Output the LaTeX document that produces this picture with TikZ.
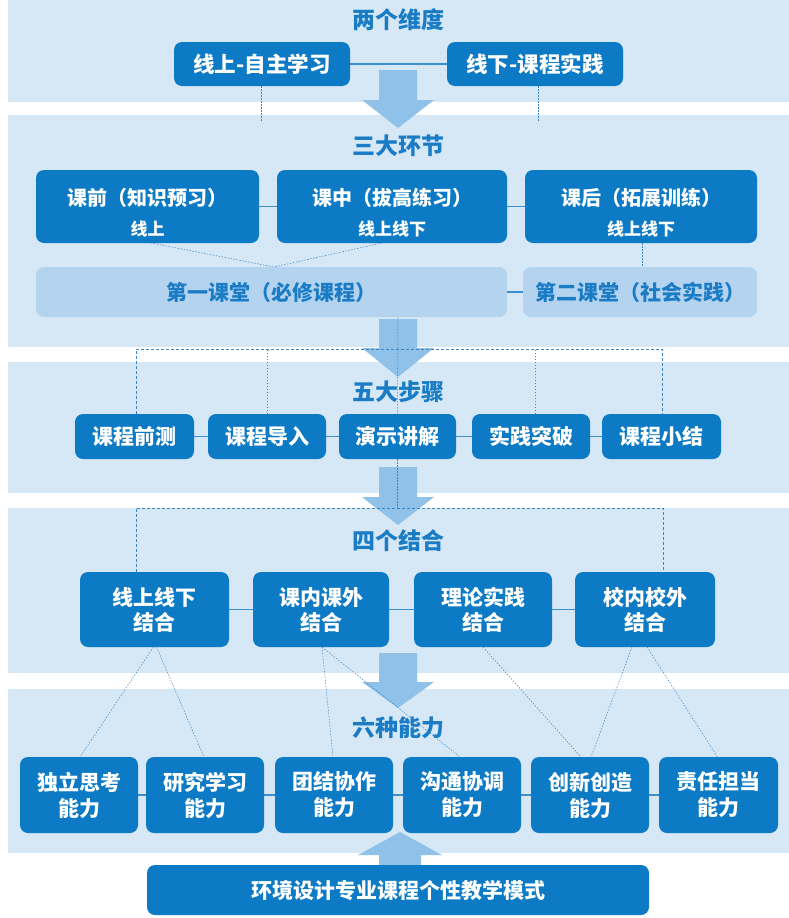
\documentclass[tikz,border=0pt]{standalone}
\usepackage{fontspec}
\setmainfont{Noto Sans CJK SC}
\usetikzlibrary{calc}
\definecolor{bandc}{HTML}{D6E8F6}
\definecolor{boxc}{HTML}{0C7AC4}
\definecolor{lightc}{HTML}{B4D3EF}
\definecolor{arrowc}{HTML}{8FC1E9}
\definecolor{titlec}{HTML}{1B7CC6}
\definecolor{linec}{HTML}{3A8FD0}
\definecolor{dotc}{HTML}{3A86C4}
\begin{document}
\begin{tikzpicture}[x=1pt,y=-1pt,
  dbox/.style={fill=boxc,rounded corners=8pt,inner sep=0pt,outer sep=0pt,text=white,align=center},
  lbox/.style={fill=lightc,rounded corners=8pt,inner sep=0pt,outer sep=0pt,text=titlec,align=center},
  ttl/.style={text=titlec,font=\bfseries\fontsize{23}{26}\selectfont,inner sep=0pt},
  fA/.style={font=\bfseries\fontsize{21.5}{26}\selectfont},
  fB/.style={font=\bfseries\fontsize{20}{24}\selectfont},
  fL/.style={font=\bfseries\fontsize{21}{24}\selectfont},
  fS/.style={font=\bfseries\fontsize{17}{20}\selectfont},
  fC/.style={font=\bfseries\fontsize{21}{25}\selectfont},
  fD/.style={font=\bfseries\fontsize{21}{26}\selectfont},
  conn/.style={draw=linec,line width=1.2pt},
  dotl/.style={draw=dotc,line width=0.5pt,dash pattern=on 1.5pt off 1.5pt},
  dashl/.style={draw=dotc,line width=0.8pt,dash pattern=on 3pt off 2pt},
  arr/.style={fill=arrowc}
]
\useasboundingbox (0,0) rectangle (789,918);
\fill[white] (0,0) rectangle (789,918);
% bands
\fill[bandc] (8,0) rectangle (789,102);
\fill[bandc] (8,115) rectangle (789,347);
\fill[bandc] (8,362) rectangle (789,493);
\fill[bandc] (8,508) rectangle (789,673);
\fill[bandc] (8,689) rectangle (789,853);
% arrows
\fill[arr] (379,70) -- (417,70) -- (417,100) -- (434,100) -- (398,128) -- (362,100) -- (379,100) -- cycle;
\fill[arr] (379,319) -- (417,319) -- (417,348) -- (434,348) -- (398,377) -- (362,348) -- (379,348) -- cycle;
\fill[arr] (379,467) -- (417,467) -- (417,497) -- (434,497) -- (398,525) -- (362,497) -- (379,497) -- cycle;
\fill[arr] (379,653) -- (417,653) -- (417,682) -- (434,682) -- (398,708) -- (362,682) -- (379,682) -- cycle;
\fill[arr] (379,865) -- (421,865) -- (421,855) -- (442,855) -- (400,832) -- (358,855) -- (379,855) -- cycle;
% titles
\node[ttl] (t1) at (398,20) {两个维度};
\node[ttl] (t2) at (398,146) {三大环节};
\node[ttl] (t3) at (398,392) {五大步骤};
\node[ttl] (t4) at (398,541) {四个结合};
\node[ttl] (t5) at (398,728) {六种能力};
% band 1
\node[dbox,fA,minimum width=176,minimum height=44] (b1a) at (262,64) {线上-自主学习};
\node[dbox,fA,minimum width=176,minimum height=44] (b1b) at (535,64) {线下-课程实践};
\coordinate (e1a) at (261,122);
\coordinate (e1b) at (538,122);
% band 2
\node[dbox,minimum width=223,minimum height=73] (c1) at (147.5,206.5) {};
\node[dbox,minimum width=230,minimum height=73] (c2) at (392,206.5) {};
\node[dbox,minimum width=232,minimum height=73] (c3) at (641,206.5) {};
\node[text=white,fB,inner sep=0pt] (c1m) at (147.5,198) {课前（知识预习）};
\node[text=white,fB,inner sep=0pt] (c2m) at (392,198) {课中（拔高练习）};
\node[text=white,fB,inner sep=0pt] (c3m) at (641,198) {课后（拓展训练）};
\node[text=white,fS,inner sep=0pt] (c1s) at (147.5,229) {线上};
\node[text=white,fS,inner sep=0pt] (c2s) at (392,229) {线上线下};
\node[text=white,fS,inner sep=0pt] (c3s) at (641,229) {线上线下};
\node[lbox,fL,minimum width=471,minimum height=50] (d1) at (271.5,292) {第一课堂（必修课程）};
\node[lbox,fL,minimum width=234,minimum height=50] (d2) at (640,292) {第二课堂（社会实践）};
\coordinate (vmeet) at (274,267);
% band 3
\node[dbox,fC,minimum width=119,minimum height=45] (s1) at (134.5,436.5) {课程前测};
\node[dbox,fC,minimum width=118,minimum height=45] (s2) at (267,436.5) {课程导入};
\node[dbox,fC,minimum width=117,minimum height=45] (s3) at (397.5,436.5) {演示讲解};
\node[dbox,fC,minimum width=118,minimum height=45] (s4) at (531,436.5) {实践突破};
\node[dbox,fC,minimum width=119,minimum height=45] (s5) at (661.5,436.5) {课程小结};
\coordinate (h1l) at (136,349);
\coordinate (h1r) at (662,349);
\coordinate (h2l) at (136,508);
\coordinate (h2r) at (663,508);
% band 4
\node[dbox,fC,minimum width=149,minimum height=75] (k1) at (154.5,609.5) {线上线下\\结合};
\node[dbox,fC,minimum width=136,minimum height=75] (k2) at (321,609.5) {课内课外\\结合};
\node[dbox,fC,minimum width=138,minimum height=75] (k3) at (483,609.5) {理论实践\\结合};
\node[dbox,fC,minimum width=140,minimum height=75] (k4) at (645,609.5) {校内校外\\结合};
% band 5
\node[dbox,fD,minimum width=118,minimum height=76] (a1) at (79,795) {独立思考\\能力};
\node[dbox,fD,minimum width=118,minimum height=76] (a2) at (205,795) {研究学习\\能力};
\node[dbox,fD,minimum width=118,minimum height=76] (a3) at (334,795) {团结协作\\能力};
\node[dbox,fD,minimum width=118,minimum height=76] (a4) at (462,795) {沟通协调\\能力};
\node[dbox,fD,minimum width=118,minimum height=76] (a5) at (590,795) {创新创造\\能力};
\node[dbox,fD,minimum width=119,minimum height=76] (a6) at (718.5,795) {责任担当\\能力};
\node[dbox,fC,minimum width=502,minimum height=50] (bot) at (398,890) {环境设计专业课程个性教学模式};
% connectors
\draw[conn] (b1a) -- (b1b);
\draw[conn] (c1) -- (c2);
\draw[conn] (c2) -- (c3);
\draw[conn] (d1) -- (d2);
\draw[conn] (s1) -- (s2);
\draw[conn] (s2) -- (s3);
\draw[conn] (s3) -- (s4);
\draw[conn] (s4) -- (s5);
\draw[conn] (k1) -- (k2);
\draw[conn] (k2) -- (k3);
\draw[conn] (k3) -- (k4);
\draw[conn] (a1) -- (a2);
\draw[conn] (a2) -- (a3);
\draw[conn] (a3) -- (a4);
\draw[conn] (a4) -- (a5);
\draw[conn] (a5) -- (a6);
% dotted lines
\draw[dotl] ([xshift=-1pt]b1a.south) -- (e1a);
\draw[dotl] ([xshift=3pt]b1b.south) -- (e1b);
\draw[dotl] ([xshift=3.5pt]c1.south) -- (vmeet);
\draw[dotl] ([xshift=-10pt]c2.south) -- (vmeet);
\draw[dotl] ([xshift=1pt]c3.south) -- ([xshift=2pt]d2.north);
\draw[dotl] ([xshift=126.5pt]d1.south) -- (s3.north);
\draw[dashl] (s1.north -| h1l) -- (h1l) -- (h1r) -- (s5.north -| h1r);
\draw[dotl] (s2.north) -- (s2.north |- h1l);
\draw[dotl] ([xshift=4pt]s4.north) -- ([xshift=4pt]s4.north |- h1l);
\draw[dotl] (s3.south) -- (s3.south |- h2l);
\draw[dashl] (k1.north -| h2l) -- (h2l) -- (h2r) -- (k4.north -| h2r);
\draw[dotl] ([xshift=-1pt]k1.south) -- ([xshift=1pt]a1.north);
\draw[dotl] ([xshift=2pt]k1.south) -- ([xshift=-1pt]a2.north);
\draw[dotl] ([xshift=1pt]k2.south) -- ([xshift=-1pt]a3.north);
\draw[dotl] ([xshift=1pt]k2.south) -- ([xshift=-2pt]a4.north);
\draw[dotl] (k3.south) -- ([xshift=-9pt]a5.north);
\draw[dotl] ([xshift=-13pt]k4.south) -- ([xshift=1pt]a5.north);
\draw[dotl] ([xshift=2pt]k4.south) -- ([xshift=-1pt]a6.north);
\end{tikzpicture}
\end{document}
